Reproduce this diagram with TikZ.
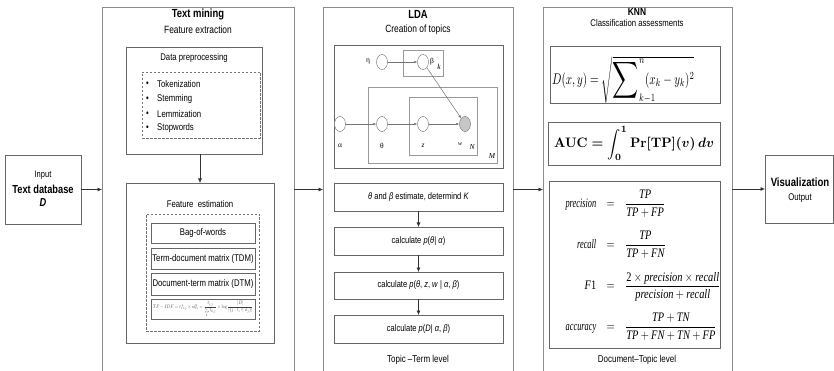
\documentclass[tikz,border=0pt]{standalone}
\usepackage{amsmath}
\usepackage{graphicx}
\usepackage[no-math]{fontspec}
\setmainfont{Liberation Sans}[FakeStretch=0.8]
\newfontfamily\tms{Liberation Serif}
\usetikzlibrary{arrows.meta,shapes.geometric}
\newcommand\ti[1]{\mbox{\tms\itshape #1}}
\newcommand\tu[1]{\mbox{\tms #1}}
\newcommand\lab[1]{\scalebox{0.8}[1]{\ti{#1}}}
\newcommand\bigsum{\mathop{\vcenter{\hbox{\scalebox{1.65}{$\displaystyle\sum$}}}}}
\tikzset{
  panel/.style={draw=black!45, line width=0.7pt, anchor=north west, inner sep=0pt, outer sep=0pt},
  box/.style={draw=black!60, line width=0.6pt, anchor=north west, inner sep=0pt, outer sep=0pt},
  dbox/.style={draw=black!55, line width=0.6pt, dash pattern=on 2.5pt off 1.5pt, anchor=north west, inner sep=0pt, outer sep=0pt},
  pbox/.style={draw=black!40, line width=0.5pt, anchor=north west, inner sep=0pt, outer sep=0pt},
  arr/.style={-{Latex[length=4.5pt,width=4pt]}, draw=black!80, line width=0.6pt},
  parr/.style={-{Latex[length=3pt,width=2.5pt]}, draw=black!55, line width=0.5pt},
  var/.style={ellipse, draw=black!50, fill=white, line width=0.5pt, minimum width=11pt, minimum height=15pt, inner sep=0pt},
  ttl/.style={inner sep=0pt, font=\fontsize{11.8}{13}\selectfont\bfseries},
  sub/.style={inner sep=0pt, font=\fontsize{10.5}{12}\selectfont},
  tnine/.style={inner sep=0pt, font=\fontsize{9.7}{11}\selectfont},
  teight/.style={inner sep=0pt, font=\fontsize{9.4}{10}\selectfont},
  pl/.style={inner sep=0pt, font=\fontsize{7.5}{9}\selectfont},
  fml/.style={inner sep=0pt}
}
\begin{document}
\begin{tikzpicture}[x=1pt,y=-1pt]
\useasboundingbox (0,0) rectangle (834,371);
\clip (0,0) rectangle (834,371);
\fill[white] (0,0) rectangle (834,371);

% panels
\node[panel, minimum width=192pt, minimum height=400pt] (tm) at (102,7) {};
\node[panel, minimum width=190pt, minimum height=400pt] (lda) at (323,7) {};
\node[panel, minimum width=189pt, minimum height=400pt] (knn) at (543,7) {};

% input
\node[box, minimum width=76pt, minimum height=69pt] (inp) at (5,155) {};
\node[teight] (inpA) at (43,175) {Input};
\node[ttl, font=\fontsize{11.6}{13}\selectfont\bfseries] (inpB) at (43,189) {Text database};
\node[ttl, font=\fontsize{11.6}{13}\selectfont\bfseries\itshape] (inpC) at (43,203) {D};

% visualization
\node[box, minimum width=68pt, minimum height=68pt] (vis) at (765,155) {};
\node[ttl, font=\fontsize{12}{13}\selectfont\bfseries] (visA) at (800,182) {Visualization};
\node[tnine] (visB) at (800,198) {Output};

% main arrows
\draw[arr] (inp.east) -- (inp.east -| tm.west);
\draw[arr] (tm.east |- inp.east) -- (lda.west |- inp.east);
\draw[arr] (lda.east |- inp.east) -- (knn.west |- inp.east);
\draw[arr] (knn.east |- vis.west) -- (vis.west);

% ---------- Text mining ----------
\node[ttl] (tmT) at (198,14) {Text mining};
\node[sub] (tmS) at (198,30) {Feature extraction};
\node[box, minimum width=136pt, minimum height=107pt] (dp) at (126,47) {};
\node[tnine] (dpT) at (194,58) {Data preprocessing};
\node[dbox, minimum width=118pt, minimum height=66pt] (dpd) at (142,72) {};
\foreach \y/\w in {84/Tokenization, 99/Stemming, 114/Lemmization, 128/Stopwords}{
  \node[tnine, anchor=west] (bu\y) at (146,\y) {•};
  \node[tnine, anchor=west] (bt\y) at (157,\y) {\w};
}
\node[box, minimum width=148pt, minimum height=160pt] (fe) at (126,183) {};
\draw[arr] (dp.south -| fe.north) -- (fe.north);
\node[tnine] (feT) at (200,204) {Feature\ \ estimation};
\node[dbox, minimum width=113pt, minimum height=117pt] (fed) at (146,214) {};
\node[box, tnine, minimum width=104pt, minimum height=20pt] (bow) at (151,223) {Bag-of-words};
\node[box, tnine, minimum width=104pt, minimum height=21pt] (tdm) at (151,248) {Term-document matrix (TDM)};
\node[box, tnine, minimum width=104pt, minimum height=22pt] (dtm) at (151,273) {Document-term matrix (DTM)};
\node[box, minimum width=104pt, minimum height=20pt] (tfidf) at (151,299) {};
\node[fml, text=black!75] (tfidfF) at (tfidf.center) {\resizebox*{100pt}{16pt}{$TF-IDF = tf_{i,j}\times idf_i = \dfrac{t_{i,j}}{\sum\limits_{k} t_{k,j}}\times\log\dfrac{|D|}{|\{j : t_i\in d_j\}|}$}};

% ---------- LDA ----------
\node[ttl] (ldaT) at (418,14) {LDA};
\node[sub] (ldaS) at (418,30) {Creation of topics};
\node[box, minimum width=169pt, minimum height=123pt] (plate) at (334,45) {};
\node[pbox, minimum width=40pt, minimum height=26pt] (bbox) at (403,50) {};
\node[pbox, minimum width=129pt, minimum height=76pt] (mplate) at (368,87) {};
\node[pbox, minimum width=68pt, minimum height=58pt] (nplate) at (409,97) {};
\node[var] (eta) at (382,62) {};
\node[var] (beta) at (423,62) {};
\node[var] (alpha) at (340,124) {};
\node[var] (theta) at (382,124) {};
\node[var] (zz) at (423,124) {};
\node[var, fill=black!22] (ww) at (465,124) {};
\draw[parr] (eta) -- (beta);
\draw[parr] (alpha) -- (theta);
\draw[parr] (theta) -- (zz);
\draw[parr] (zz) -- (ww);
\draw[parr] (beta) -- (ww);
\node[pl] (leta) at (368,62) {\tu{η}};
\node[pl] (lbeta) at (432,62) {\tu{β}};
\node[pl] (lk) at (439,67) {\ti{k}};
\node[pl] (lalpha) at (340,146) {\tu{α}};
\node[pl] (ltheta) at (382,146) {\tu{θ}};
\node[pl] (lz) at (423,146) {\ti{z}};
\node[pl, font=\fontsize{6}{7}\selectfont] (lw) at (460,144) {\ti{w}};
\node[pl] (lN) at (472,147) {\ti{N}};
\node[pl] (lM) at (492,156) {\ti{M}};

\node[box, teight, minimum width=169pt, minimum height=28pt] (f1) at (334,183) {\textit{θ} and \textit{β} estimate, determind \textit{K}};
\node[box, teight, minimum width=169pt, minimum height=28pt] (f2) at (334,227) {calculate \textit{p}(\textit{θ}| \textit{α})};
\node[box, teight, minimum width=169pt, minimum height=27pt] (f3) at (334,272) {calculate \textit{p}(\textit{θ}, \textit{z}, \textit{w} | \textit{α}, \textit{β})};
\node[box, teight, minimum width=169pt, minimum height=28pt] (f4) at (334,315) {calculate \textit{p}(\textit{D}| \textit{α}, \textit{β})};
\draw[arr] (f1) -- (f2);
\draw[arr] (f2) -- (f3);
\draw[arr] (f3) -- (f4);
\node[tnine, font=\fontsize{10}{11}\selectfont] (ldaB) at (418,360) {Topic –Term level};

% ---------- KNN ----------
\node[ttl, font=\fontsize{10.5}{12}\selectfont\bfseries] (knnT) at (637,12) {KNN};
\node[tnine] (knnS) at (637,23) {Classification assessments};
\node[box, minimum width=170pt, minimum height=57pt] (dbx) at (550,46) {};
\node[fml, anchor=west] (dF) at (552,80) {\scalebox{1.1}[1.55]{$D(x,y) = \sqrt{\bigsum\nolimits_{\rlap{$\scriptstyle k-1$}}^{n}(x_k-y_k)^2}$}};
\node[box, minimum width=172pt, minimum height=43pt] (aucbx) at (548,122) {};
\node[fml] (aucF) at (aucbx.center) {\resizebox*{160pt}{34pt}{\boldmath$\displaystyle \mathrm{AUC} = \int_0^1 \mathrm{Pr}[\mathrm{TP}](v)\,dv$}};
\node[box, minimum width=171pt, minimum height=167pt] (pbx) at (549,181) {};
\node[fml] (pF) at (643,265.5) {\scalebox{1.04}[1.3]{$\displaystyle\begin{array}{r@{\hspace{10pt}=\hspace{10pt}}l}
\lab{precision} & \dfrac{\ti{TP}}{\ti{TP}+\ti{FP}}\\[14.5pt]
\lab{recall} & \dfrac{\ti{TP}}{\ti{TP}+\ti{FN}}\\[14.5pt]
\ti{F}\tu{1} & \dfrac{\tu{2}\times\ti{precision}\times\ti{recall}}{\ti{precision}+\ti{recall}}\\[14.5pt]
\lab{accuracy} & \dfrac{\ti{TP}+\ti{TN}}{\ti{TP}+\ti{FN}+\ti{TN}+\ti{FP}}
\end{array}$}};
\node[tnine, font=\fontsize{10}{11}\selectfont] (knnB) at (637,360) {Document–Topic level};
\end{tikzpicture}
\end{document}
